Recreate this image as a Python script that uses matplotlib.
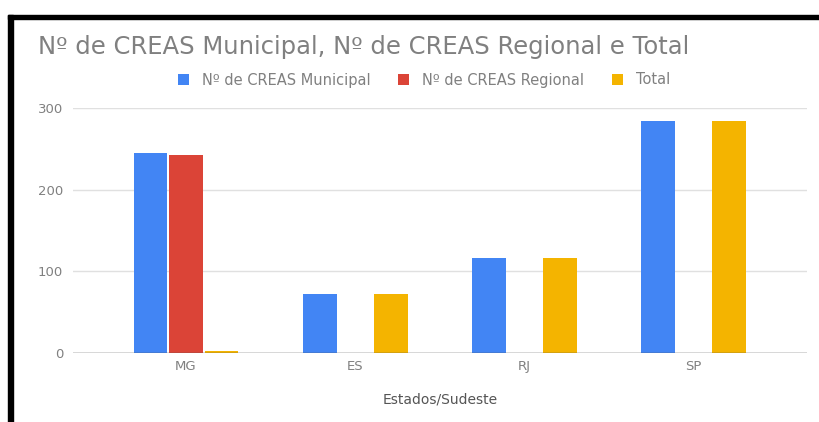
import numpy as np
import matplotlib
matplotlib.use("Agg")
import matplotlib.pyplot as plt
from matplotlib.patches import Rectangle

plt.rcParams["font.family"] = ["DejaVu Sans"]

estados = ["MG", "ES", "RJ", "SP"]
municipal = [245, 73, 116, 284]
regional = [243, 0, 0, 0]
total = [3, 73, 116, 284]

series = [
    ("Nº de CREAS Municipal", municipal, "#4285F4"),
    ("Nº de CREAS Regional", regional, "#DB4437"),
    ("Total", total, "#F4B400"),
]

GRAY = "#808080"

fig = plt.figure(figsize=(8.2, 4.22), dpi=100)
ax = fig.add_axes([0.089, 0.163, 0.895, 0.581])

x = np.arange(len(estados))
width = 0.2
offsets = [-0.21, 0.0, 0.21]
handles = []
for (name, vals, color), off in zip(series, offsets):
    b = ax.bar(x + off, vals, width, color=color, label=name, zorder=3)
    handles.append(b)

ax.set_xlim(-0.668, 3.67)
ax.set_ylim(0, 300)
ax.set_yticks([0, 100, 200, 300])
ax.set_xticks(x)
ax.set_xticklabels(estados)
ax.grid(axis="y", color="#e0e0e0", linewidth=1, zorder=0)
ax.axhline(0, color="#555555", linewidth=1, zorder=4)
for s in ax.spines.values():
    s.set_visible(False)
ax.tick_params(axis="both", length=0, labelsize=9.5, colors=GRAY)
ax.tick_params(axis="y", pad=7)
ax.tick_params(axis="x", pad=5)
ax.set_xlabel("Estados/Sudeste", fontsize=10, color="#555555", labelpad=14)

fig.text(38 / 820, 1 - 47 / 422, "Nº de CREAS Municipal, Nº de CREAS Regional e Total",
         fontsize=17.5, color=GRAY, va="center", ha="left")

fig.legend(handles=handles, loc="center", bbox_to_anchor=(424 / 820, 1 - 80 / 422),
           ncol=3, frameon=False, fontsize=10.5, handlelength=0.75, handleheight=0.75,
           columnspacing=1.9, handletextpad=0.9, labelcolor=GRAY)

# black frame on the top and left edges
fig.patches.append(Rectangle((8 / 820, 0), 5 / 820, 1 - 15 / 422, transform=fig.transFigure,
                             color="black", zorder=10))
fig.patches.append(Rectangle((8 / 820, 1 - 19 / 422), 1 - 8 / 820, 4 / 422,
                             transform=fig.transFigure, color="black", zorder=10))

fig.savefig("out.png", dpi=100)
